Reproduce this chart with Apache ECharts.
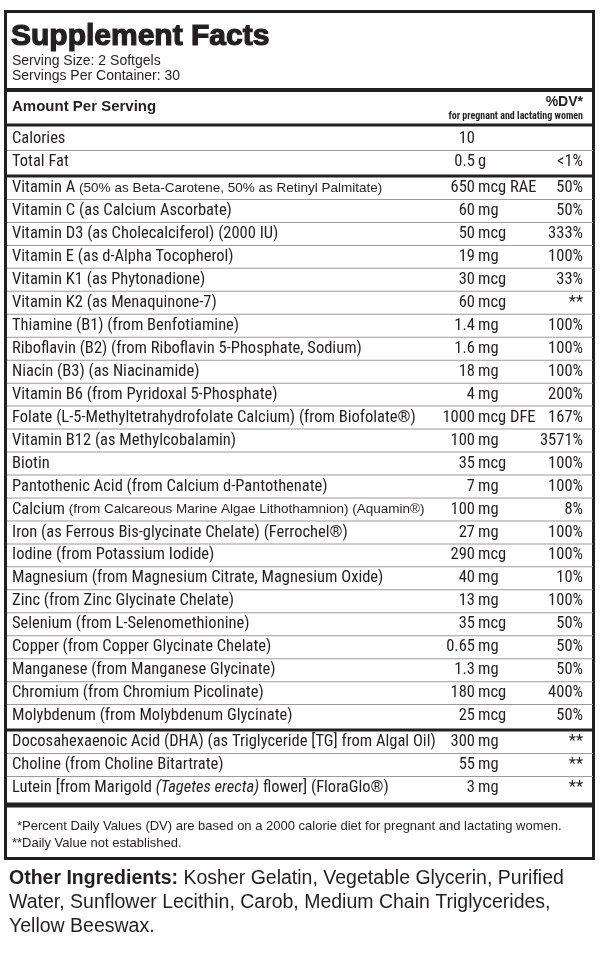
<!DOCTYPE html>
<html><head><meta charset="utf-8">
<script src="https://cdn.jsdelivr.net/npm/echarts@6/dist/echarts.min.js"></script>
<style>html,body{margin:0;padding:0;background:#fff}#c{width:600px;height:954px}</style>
</head><body><div id="c"></div>
<script>
const topRows = ["Calories", "Total Fat"];
const topAmt = [["10",""],["0.5","g"]];
const topDV = ["", "<1%"];
const nutrients = [
 "Vitamin A {s|(50% as Beta-Carotene, 50% as Retinyl Palmitate)}",
 "Vitamin C (as Calcium Ascorbate)",
 "Vitamin D3 (as Cholecalciferol) (2000 IU)",
 "Vitamin E (as d-Alpha Tocopherol)",
 "Vitamin K1 (as Phytonadione)",
 "Vitamin K2 (as Menaquinone-7)",
 "Thiamine (B1) (from Benfotiamine)",
 "Riboflavin (B2) (from Riboflavin 5-Phosphate, Sodium)",
 "Niacin (B3) (as Niacinamide)",
 "Vitamin B6 (from Pyridoxal 5-Phosphate)",
 "Folate (L-5-Methyltetrahydrofolate Calcium) (from Biofolate®)",
 "Vitamin B12 (as Methylcobalamin)",
 "Biotin",
 "Pantothenic Acid (from Calcium d-Pantothenate)",
 "Calcium {s|(from Calcareous Marine Algae Lithothamnion) (Aquamin®)}",
 "Iron (as Ferrous Bis-glycinate Chelate) (Ferrochel®)",
 "Iodine (from Potassium Iodide)",
 "Magnesium (from Magnesium Citrate, Magnesium Oxide)",
 "Zinc (from Zinc Glycinate Chelate)",
 "Selenium (from L-Selenomethionine)",
 "Copper (from Copper Glycinate Chelate)",
 "Manganese (from Manganese Glycinate)",
 "Chromium (from Chromium Picolinate)",
 "Molybdenum (from Molybdenum Glycinate)"
];
const amountNums = ["650","60","50","19","30","60","1.4","1.6","18","4","1000","100","35","7","100","27","290","40","13","35","0.65","1.3","180","25"];
const amountUnits = ["mcg RAE","mg","mcg","mg","mcg","mcg","mg","mg","mg","mg","mcg DFE","mg","mcg","mg","mg","mg","mcg","mg","mg","mcg","mg","mg","mcg","mcg"];
const dvValues = ["50%","50%","333%","100%","33%","**","100%","100%","100%","200%","167%","3571%","100%","100%","8%","100%","100%","10%","100%","50%","50%","50%","400%","50%"];
const otherRows = ["Docosahexaenoic Acid (DHA) (as Triglyceride [TG] from Algal Oil)","Choline (from Choline Bitartrate)","Lutein [from Marigold {i|(Tagetes erecta)} flower] (FloraGlo®)"];
const otherNums = ["300","55","3"];
const otherUnits = ["mg","mg","mg"];
const otherDV = ["**","**","**"];

const F = "'Liberation Sans Narrow','Arial Narrow','Roboto Condensed',sans-serif";
const FW = "'Liberation Sans','Arial',sans-serif";
const C = "#231f20";
const FS = "16.5px ";
const g = [];
function txt(x,y,text,o){ g.push({type:'text',x,y,style:Object.assign({text,fill:C,font:FS+F,textVerticalAlign:'middle'},o||{})}); }
function line(y,w,col,x1,x2){ g.push({type:'rect',shape:{x:x1||7,y:y-w/2,width:(x2||593)-(x1||7),height:w},style:{fill:col||C}}); }
const rich = {s:{font:"13.5px "+FW,fill:C},i:{font:"italic "+FS+F,fill:C}};
const NX=12, AX=475, UX=478, DX=583;
function row(y,name,num,unit,dv){
  g.push({type:'text',x:NX,y,style:{text:name,fill:C,font:FS+F,textVerticalAlign:'middle',rich:rich}});
  if(num) txt(AX,y,num,{textAlign:'right'});
  if(unit) txt(UX,y,unit);
  if(dv) txt(DX,y,dv,{textAlign:'right'});
}
g.push({type:'rect',shape:{x:5.5,y:11.5,width:588,height:847},style:{fill:'none',stroke:C,lineWidth:3}});
txt(11,37,"Supplement Facts",{font:"bold 30px "+FW,stroke:C,lineWidth:1.2});
txt(12,61,"Serving Size: 2 Softgels",{font:"14px "+FW});
txt(12,76,"Servings Per Container: 30",{font:"14px "+FW});
line(90,4);
txt(12,107,"Amount Per Serving",{font:"bold 15px "+FW});
txt(DX,102,"%DV*",{font:"bold 14px "+FW,textAlign:'right'});
txt(DX,116,"for pregnant and lactating women",{font:"bold 10px "+F,textAlign:'right'});
line(125,3);
row(139,topRows[0],topAmt[0][0],topAmt[0][1],topDV[0]);
line(150.5,1,"#9a9a9a");
row(162,topRows[1],topAmt[1][0],topAmt[1][1],topDV[1]);
line(176,3);
const step=22.96;
nutrients.forEach((n,i)=>{
  const y=188+i*step;
  row(y,n,amountNums[i],amountUnits[i],dvValues[i]);
  if(i<nutrients.length-1) line(y+step/2,1,"#9a9a9a");
});
line(730,3);
otherRows.forEach((n,i)=>{
  const y=742+i*step;
  row(y,n,otherNums[i],otherUnits[i],otherDV[i]);
  if(i<otherRows.length-1) line(y+step/2,1,"#9a9a9a");
});
line(805,5);
txt(17,826,"*Percent Daily Values (DV) are based on a 2000 calorie diet for pregnant and lactating women.",{font:"13px "+FW,letterSpacing:-0.45});
txt(12,843,"**Daily Value not established.",{font:"13px "+FW});
const ingr = ["{b|Other Ingredients:} Kosher Gelatin, Vegetable Glycerin, Purified","Water, Sunflower Lecithin, Carob, Medium Chain Triglycerides,","Yellow Beeswax."];
ingr.forEach((t,i)=>g.push({type:'text',x:9,y:879+i*24,style:{text:t,fill:C,font:"19.5px "+FW,textVerticalAlign:'middle',rich:{b:{font:"bold 19.5px "+FW,fill:C}}}}));
const chart = echarts.init(document.getElementById('c'),null,{renderer:'canvas'});
chart.setOption({animation:false,graphic:{elements:g}});
</script></body></html>
